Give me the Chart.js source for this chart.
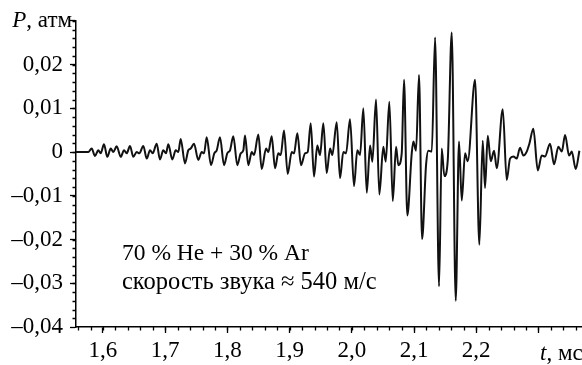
<!DOCTYPE html>
<html><head><meta charset="utf-8">
<script src="https://cdn.jsdelivr.net/npm/chart.js@4/dist/chart.umd.min.js"></script>
<style>html,body{margin:0;padding:0;background:#fff}#wrap{width:582px;height:365px}
.pre{position:absolute;left:-999px;top:0;font-family:"Liberation Serif";font-size:23px}
</style>
</head><body><div id="wrap"><canvas id="c" width="582" height="365"></canvas></div>
<span class="pre">0,02 P атм</span><span class="pre" style="font-style:italic">P t</span>
<script>
const timeMs = [1.5566,1.5764,1.5818,1.5871,1.5924,1.5963,1.6016,1.6069,1.6124,1.6166,1.6220,1.6285,1.6338,1.6381,1.6434,1.6487,1.6542,1.6584,1.6648,1.6703,1.6756,1.6799,1.6863,1.6916,1.6969,1.7013,1.7050,1.7114,1.7169,1.7211,1.7249,1.7318,1.7371,1.7410,1.7463,1.7532,1.7587,1.7624,1.7667,1.7736,1.7789,1.7828,1.7881,1.7945,1.7998,1.8042,1.8095,1.8159,1.8214,1.8256,1.8283,1.8336,1.8391,1.8428,1.8497,1.8551,1.8621,1.8658,1.8712,1.8765,1.8818,1.8857,1.8910,1.8969,1.9034,1.9071,1.9124,1.9183,1.9248,1.9291,1.9339,1.9392,1.9445,1.9489,1.9542,1.9596,1.9650,1.9686,1.9757,1.9810,1.9863,1.9907,1.9971,2.0035,2.0088,2.0132,2.0185,2.0240,2.0293,2.0330,2.0389,2.0442,2.0506,2.0545,2.0603,2.0658,2.0711,2.0748,2.0802,2.0839,2.0892,2.0963,2.0989,2.1032,2.1080,2.1129,2.1193,2.1230,2.1285,2.1338,2.1402,2.1445,2.1487,2.1542,2.1606,2.1670,2.1723,2.1767,2.1820,2.1863,2.1981,2.2050,2.2104,2.2141,2.2185,2.2233,2.2286,2.2330,2.2426,2.2490,2.2543,2.2596,2.2651,2.2704,2.2757,2.2812,2.2854,2.2918,2.2989,2.3053,2.3106,2.3186,2.3251,2.3320,2.3375,2.3428,2.3492,2.3535,2.3600,2.3658];
const pressureAtm = [0,0,0.0008,-0.0009,0.0004,-0.0003,0.0018,-0.0011,0.0008,0,0.0013,-0.0011,0.0004,-0.0003,0.0014,-0.0011,0,-0.0003,0.0014,-0.0015,0.0004,-0.0003,0.0019,-0.0017,0.0004,-0.0003,0.0018,-0.0017,0.0004,0,0.003,-0.0026,0.0004,0.0008,0.0019,-0.0018,0,-0.0003,0.0034,-0.003,-0.0003,0.0004,0.0034,-0.003,-0.0003,0.0004,0.0036,-0.003,-0.0003,0.0004,0.0038,-0.003,0,-0.0007,0.004,-0.0039,0.0008,0,0.0036,-0.0037,-0.0003,-0.0007,0.0049,-0.005,0,-0.0003,0.0043,-0.003,-0.0003,0,0.0066,-0.0056,0.0015,-0.0007,0.0066,-0.0048,0.0008,-0.0007,0.0068,-0.006,0,-0.0003,0.0075,-0.0078,0.0004,-0.0007,0.01,-0.0093,0.0015,-0.0022,0.012,-0.0097,0.0012,-0.0022,0.0115,-0.0112,0.0012,-0.003,-0.0003,0.0165,-0.0145,-0.0003,0.0024,0.0003,0.0176,-0.0199,-0.003,0.0003,0.0001,0.0262,-0.0307,0.0008,-0.0055,-0.0019,0.0273,-0.034,0.0024,-0.0111,-0.0003,-0.0021,0.0165,-0.0212,0.0026,-0.0082,0.0037,-0.0021,0.0003,-0.0037,0.0098,-0.0064,-0.0015,-0.001,-0.0015,0.001,-0.0008,0.0001,0.0019,0.0053,-0.0042,-0.0008,-0.001,0.0019,-0.0028,0.0012,0.0001,0.0039,-0.0008,0.0001,-0.0039,0.0003];
const xTickValues = [1.6,1.7,1.8,1.9,2.0,2.1,2.2,2.3];
const xTickLabels = ['1,6','1,7','1,8','1,9','2,0','2,1','2,2',''];
const yTickValues = [-0.04,-0.03,-0.02,-0.01,0,0.01,0.02,0.03];
const yTickLabels = ['\u20130,04','\u20130,03','\u20130,02','\u20130,01','0','0,01','0,02',''];
const xAxisTitle = ['t', ', мс'];
const yAxisTitle = ['P', ', атм'];
const noteLines = ['70 % He + 30 % Ar', 'скорость звука \u2248 540 м/с'];

const FONT = 'Liberation Serif';
const FS = 23;

const extras = {
  id: 'extras',
  afterDraw(chart) {
    const ctx = chart.ctx, xs = chart.scales.x, ys = chart.scales.y, a = chart.chartArea;
    ctx.save();
    ctx.strokeStyle = '#000'; ctx.lineWidth = 1.3;
    ctx.beginPath();
    for (let k = 78; k <= 118; k++) {
      const v = k / 50; const px = Math.round(xs.getPixelForValue(v)) + 0.5;
      if (px < a.left || px > a.right) continue;
      ctx.moveTo(px, a.bottom); ctx.lineTo(px, a.bottom + 3.5);
    }
    for (let k = -20; k <= 15; k++) {
      const v = k / 500; const py = Math.round(ys.getPixelForValue(v)) + 0.5;
      if (py < a.top - 1 || py > a.bottom) continue;
      ctx.moveTo(a.left, py); ctx.lineTo(a.left - 3.5, py);
    }
    ctx.stroke();
    ctx.fillStyle = '#000';
    ctx.textBaseline = 'alphabetic';
    ctx.textAlign = 'left';
    const it = 'italic ' + FS + 'px "' + FONT + '"', rg = FS + 'px "' + FONT + '"';
    ctx.font = it; const wP = ctx.measureText(yAxisTitle[0]).width;
    ctx.font = rg; const wR = ctx.measureText(yAxisTitle[1]).width;
    const xr = a.left - 4;
    ctx.font = it; ctx.fillText(yAxisTitle[0], xr - wR - wP, 27);
    ctx.font = rg; ctx.fillText(yAxisTitle[1], xr - wR, 27);
    ctx.font = it; const wt = ctx.measureText(xAxisTitle[0]).width;
    ctx.fillText(xAxisTitle[0], 540, 360);
    ctx.font = rg; ctx.fillText(xAxisTitle[1], 540 + wt, 360);
    ctx.font = '23.5px "' + FONT + '"';
    ctx.fillText(noteLines[0], 122, 260);
    ctx.font = '24.5px "' + FONT + '"';
    ctx.fillText(noteLines[1], 122, 289);
    ctx.restore();
  }
};

function draw() {
  new Chart(document.getElementById('c'), {
    type: 'line',
    data: { datasets: [{
      data: timeMs.map((t, i) => ({x: t, y: pressureAtm[i]})),
      borderColor: '#111', borderWidth: 2, pointRadius: 0,
      cubicInterpolationMode: 'monotone', fill: false
    }]},
    options: {
      responsive: false, animation: false, devicePixelRatio: 1,
      layout: { padding: { top: 15, right: 0, left: 0, bottom: 0 } },
      plugins: { legend: { display: false }, tooltip: { enabled: false } },
      scales: {
        x: {
          type: 'linear', min: 1.5566, max: 2.37,
          afterBuildTicks: s => { s.ticks = xTickValues.map(v => ({value: v})); },
          afterFit: s => { s.height = 38; },
          grid: { drawOnChartArea: false, drawTicks: true, tickLength: 6, color: '#000', tickWidth: 1.3 },
          border: { color: '#000', width: 1.5 },
          ticks: { color: '#000', padding: 4, maxRotation: 0, autoSkip: false,
            font: { family: FONT, size: FS },
            callback: (v, i) => xTickLabels[i] }
        },
        y: {
          type: 'linear', min: -0.04, max: 0.03,
          afterBuildTicks: s => { s.ticks = yTickValues.map(v => ({value: v})); },
          afterFit: s => { s.width = 76; },
          grid: { drawOnChartArea: false, drawTicks: true, tickLength: 6, color: '#000', tickWidth: 1.3 },
          border: { color: '#000', width: 1.5 },
          ticks: { color: '#000', padding: 7, autoSkip: false,
            font: { family: FONT, size: FS },
            callback: (v, i) => yTickLabels[i] }
        }
      }
    },
    plugins: [extras]
  });
}
Promise.all([
  document.fonts.load('23px "Liberation Serif"'),
  document.fonts.load('italic 23px "Liberation Serif"')
]).then(draw, draw);
</script></body></html>
